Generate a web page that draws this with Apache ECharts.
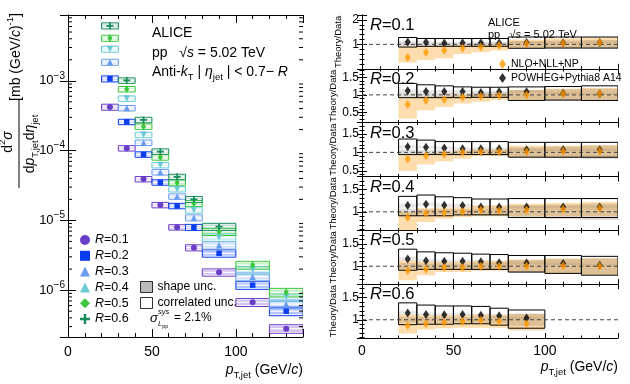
<!DOCTYPE html>
<html><head><meta charset="utf-8">
<script src="https://cdn.jsdelivr.net/npm/echarts@6/dist/echarts.min.js"></script>
<style>html,body{margin:0;padding:0;background:#fff}#c{width:630px;height:384px}</style>
</head><body><div id="c"></div>
<script>
const FONT = '"Liberation Sans", Arial, Helvetica, sans-serif';

// ---------- data ----------
const binLo = [20, 30, 40, 50, 60, 70, 80, 100, 120];
const binHi = [30, 40, 50, 60, 70, 80, 100, 120, 140];
const radii = ['R=0.1', 'R=0.2', 'R=0.3', 'R=0.4', 'R=0.5', 'R=0.6'];

const specR01 = [4.2e-4, 1.08e-4, 3.9e-5, 1.66e-5, 7.96e-6, 4.06e-6, 1.80e-6, 6.7e-7, 2.8e-7];
const specR02 = [1.07e-3, 2.58e-4, 8.8e-5, 3.5e-5, 1.61e-5, 7.96e-6, 3.37e-6, 1.18e-6, 5.0e-7];
const specR03 = [1.85e-3, 4.06e-4, 1.30e-4, 4.9e-5, 2.2e-5, 1.09e-5, 4.4e-6, 1.56e-6, 6.3e-7];
const specR04 = [2.85e-3, 5.57e-4, 1.68e-4, 6.2e-5, 2.8e-5, 1.41e-5, 5.7e-6, 1.94e-6, 8.0e-7];
const specR05 = [4.09e-3, 7.6e-4, 2.21e-4, 8.0e-5, 3.5e-5, 1.76e-5, 6.9e-6, 2.29e-6, 9.3e-7];
const specR06 = [6.15e-3, 1.01e-3, 2.75e-4, 9.7e-5, 4.2e-5, 2.0e-5, 8.1e-6];
const corrUnc = [0.10, 0.09, 0.09, 0.09, 0.09, 0.10, 0.12, 0.13, 0.14];
const shapeUnc = [0.05, 0.04, 0.04, 0.04, 0.05, 0.05, 0.08, 0.09, 0.10];

// ratio panels
const powheg01 = [1.10, 1.09, 1.06, 1.07, 1.07, 1.06, 1.08, 1.07, 1.08];
const nlo01    = [0.46, 0.67, 0.76, 0.85, 0.89, 0.95, 1.02, 1.05, 1.08];
const boxLo01  = [0.89, 0.92, 0.92, 0.92, 0.92, 0.92, 0.84, 0.85, 0.85];
const boxHi01  = [1.28, 1.24, 1.24, 1.24, 1.24, 1.24, 1.30, 1.30, 1.30];
const nloLo01  = [0.26, 0.36, 0.43, 0.61, 0.68, 0.75, 0.82, 0.85, 0.88];
const nloHi01  = [0.92, 0.92, 0.94, 0.96, 0.98, 1.00, 1.20, 1.25, 1.28];

const powheg02 = [1.12, 1.10, 1.10, 1.10, 1.07, 1.09, 1.09, 1.05, 1.03];
const nlo02    = [0.72, 0.84, 0.87, 0.93, 0.96, 0.98, 1.00, 1.03, 1.03];
const boxLo02  = [0.92, 0.92, 0.92, 0.92, 0.93, 0.93, 0.84, 0.85, 0.84];
const boxHi02  = [1.33, 1.29, 1.26, 1.23, 1.22, 1.22, 1.23, 1.24, 1.26];
const nloLo02  = [0.32, 0.56, 0.65, 0.75, 0.80, 0.85, 0.85, 0.86, 0.86];
const nloHi02  = [0.92, 0.95, 0.97, 1.00, 1.02, 1.04, 1.15, 1.18, 1.20];

const powheg03 = [1.15, 1.14, 1.12, 1.10, 1.10, 1.10, 1.07, 1.07, 1.07];
const nlo03    = [0.82, 0.91, 0.95, 1.00, 1.02, 1.02, 1.02, 1.03, 1.04];
const boxLo03  = [0.94, 0.94, 0.94, 0.94, 0.94, 0.94, 0.87, 0.87, 0.87];
const boxHi03  = [1.36, 1.33, 1.29, 1.29, 1.29, 1.29, 1.27, 1.27, 1.27];
const nloLo03  = [0.50, 0.67, 0.76, 0.83, 0.90, 0.90, 0.87, 0.87, 0.87];
const nloHi03  = [0.94, 0.97, 1.00, 1.05, 1.08, 1.08, 1.18, 1.18, 1.20];

const powheg04 = [1.14, 1.17, 1.15, 1.14, 1.11, 1.11, 1.11, 1.11, 1.11];
const nlo04    = [0.87, 0.96, 0.98, 1.00, 1.04, 1.03, 1.04, 1.06, 1.08];
const boxLo04  = [0.91, 0.91, 0.91, 0.93, 0.93, 0.93, 0.87, 0.87, 0.87];
const boxHi04  = [1.35, 1.38, 1.34, 1.32, 1.29, 1.29, 1.30, 1.30, 1.30];
const nloLo04  = [0.55, 0.77, 0.84, 0.88, 0.90, 0.90, 0.90, 0.90, 0.90];
const nloHi04  = [1.00, 1.08, 1.10, 1.10, 1.14, 1.14, 1.18, 1.20, 1.22];

const powheg05 = [1.16, 1.12, 1.11, 1.11, 1.10, 1.08, 1.07, 1.06, 1.02];
const nlo05    = [0.90, 0.93, 0.97, 0.97, 1.00, 1.00, 1.00, 1.01, 1.00];
const boxLo05  = [0.91, 0.93, 0.93, 0.93, 0.93, 0.93, 0.87, 0.84, 0.80];
const boxHi05  = [1.38, 1.32, 1.30, 1.29, 1.27, 1.26, 1.24, 1.24, 1.22];
const nloLo05  = [0.69, 0.80, 0.87, 0.87, 0.90, 0.90, 0.87, 0.84, 0.80];
const nloHi05  = [1.13, 1.10, 1.10, 1.10, 1.12, 1.12, 1.15, 1.17, 1.18];

const powheg06 = [1.15, 1.12, 1.11, 1.12, 1.10, 1.09, 1.04];
const nlo06    = [0.87, 0.91, 0.94, 0.96, 0.99, 0.96, 0.91];
const boxLo06  = [0.89, 0.90, 0.90, 0.91, 0.91, 0.88, 0.81];
const boxHi06  = [1.38, 1.33, 1.31, 1.31, 1.30, 1.26, 1.22];
const nloLo06  = [0.69, 0.78, 0.81, 0.82, 0.82, 0.82, 0.76];
const nloHi06  = [1.11, 1.10, 1.10, 1.10, 1.12, 1.10, 1.13];

const dataUnc = [0.07, 0.06, 0.06, 0.06, 0.07, 0.08, 0.14, 0.16, 0.18];
const powhegStat = [0.05, 0.04, 0.04, 0.04, 0.04, 0.04, 0.03, 0.03, 0.03];

const xTickLabels = [0, 50, 100];
const yLogTickLabels = [1e-6, 1e-5, 1e-4, 1e-3];
const panel1TickLabels = [1, 2];
const ratioMin = [0, 0.2, 0.35, 0.58, 0.6, 0.59];
const ratioMax = [2.2, 1.75, 1.8, 1.8, 1.8, 1.8];
const ratioStep = [1, 0.5, 0.5, 0.5, 0.5, 0.5];

// ---------- styling ----------
const specAll = [specR01, specR02, specR03, specR04, specR05, specR06];
const colors = ['#6a3dc8', '#0a3cf0', '#6a9cf2', '#6ccad4', '#3cc83c', '#158c5a'];
const crossPath = 'path://M3,0H5V3H8V5H5V8H3V5H0V3H3Z';
const symbols = ['circle', 'rect', 'triangle', 'triangle', 'diamond', crossPath];
const symRot = [0, 0, 0, 180, 0, 0];
const symSize = [6, 5.5, 6.5, 6.5, [5, 8], 7];
const panels = [
  [powheg01, nlo01, boxLo01, boxHi01, nloLo01, nloHi01],
  [powheg02, nlo02, boxLo02, boxHi02, nloLo02, nloHi02],
  [powheg03, nlo03, boxLo03, boxHi03, nloLo03, nloHi03],
  [powheg04, nlo04, boxLo04, boxHi04, nloLo04, nloHi04],
  [powheg05, nlo05, boxLo05, boxHi05, nloLo05, nloHi05],
  [powheg06, nlo06, boxLo06, boxHi06, nloLo06, nloHi06]
];

function richSized(sz, ssz) {
  return {
    n: {fontSize: sz, fontFamily: FONT, lineHeight: sz * 1.45, verticalAlign: 'middle', color: '#000'},
    i: {fontSize: sz, fontFamily: FONT, fontStyle: 'italic', lineHeight: sz * 1.45, verticalAlign: 'middle', color: '#000'},
    sub: {fontSize: ssz, fontFamily: FONT, lineHeight: ssz, verticalAlign: 'bottom', color: '#000'},
    sup: {fontSize: ssz, fontFamily: FONT, lineHeight: ssz, verticalAlign: 'top', color: '#000'}
  };
}

const grids = [{left: 68, top: 15, width: 235, height: 322}];
const PT = 15, PH = (338 - 15) / 6;
for (let k = 0; k < 6; k++) grids.push({left: 362, top: PT + k * PH, width: 256, height: PH});

const lineBlack = {show: true, lineStyle: {color: '#000', width: 1}};
function xAx(g, pos, labels, big) {
  return {
    gridIndex: g, type: 'value', min: 0, max: 140, interval: 50, position: pos,
    axisLine: lineBlack, splitLine: {show: false},
    axisTick: {show: true, inside: true, length: big ? 8 : 5, lineStyle: {color: '#000'}},
    minorTick: {show: true, splitNumber: 5, length: big ? 4 : 2.5, lineStyle: {color: '#000'}},
    axisLabel: {show: labels, fontSize: 14, fontFamily: FONT, color: '#000', margin: big ? 8 : 6,
      formatter: v => (xTickLabels.indexOf(v) >= 0 ? String(v) : '')}
  };
}
const xAxes = [xAx(0, 'bottom', true, true), xAx(0, 'top', false, true)];
const logMin = 2.13e-7, logMax = 8.77e-3;
const yAxes = [
  {gridIndex: 0, type: 'log', logBase: 10, min: logMin, max: logMax, position: 'left',
   axisLine: lineBlack, splitLine: {show: false},
   axisTick: {show: true, inside: true, length: 8, lineStyle: {color: '#000'}},
   minorTick: {show: false},
   axisLabel: {show: true, margin: 3, color: '#000',
     formatter: v => {
       const hit = yLogTickLabels.find(t => Math.abs(Math.log10(v) - Math.log10(t)) < 1e-6);
       if (!hit) return '';
       return '{b|10}{s|\u2212' + Math.round(-Math.log10(hit)) + '}';
     },
     rich: {b: {fontSize: 13, fontFamily: FONT, lineHeight: 20, verticalAlign: 'middle', color: '#000'},
            s: {fontSize: 10, fontFamily: FONT, lineHeight: 10, verticalAlign: 'top', color: '#000'}}}},
  {gridIndex: 0, type: 'log', logBase: 10, min: logMin, max: logMax, position: 'right',
   axisLine: lineBlack, splitLine: {show: false},
   axisTick: {show: true, inside: true, length: 8, lineStyle: {color: '#000'}},
   axisLabel: {show: false}}
];
for (let k = 0; k < 6; k++) {
  const g = k + 1, st = ratioStep[k], mn = ratioMin[k], mx = ratioMax[k];
  xAxes.push(xAx(g, 'bottom', k === 5, false));
  xAxes.push(xAx(g, 'top', false, false));
  const common = {
    gridIndex: g, type: 'value', min: mn, max: mx,
    axisLine: lineBlack, splitLine: {show: false},
    axisTick: {show: true, inside: true, length: 5, lineStyle: {color: '#000'}},
    minorTick: {show: true, splitNumber: 5, length: 2.5, lineStyle: {color: '#000'}}
  };
  if (Math.abs(mn / st - Math.round(mn / st)) < 1e-9) common.interval = st;
  else { common.minInterval = st; common.maxInterval = st; }
  yAxes.push(Object.assign({}, common, {position: 'left',
    name: 'Theory/Data', nameLocation: 'middle', nameGap: 19,
    nameTextStyle: {fontSize: 9.5, fontFamily: FONT, color: '#000'},
    axisLabel: {show: k !== 0, fontSize: 12, fontFamily: FONT, color: '#000', margin: 3,
      showMinLabel: false, showMaxLabel: false,
      formatter: v => {
        const r = v / st;
        if (Math.abs(r - Math.round(r)) > 1e-6) return '';
        if (v <= mn + 1e-6 || v >= mx - 1e-6) return '';
        return String(+v.toFixed(2));
      }}}));
  yAxes.push(Object.assign({}, common, {position: 'right', axisLabel: {show: false}}));
}

const series = [];
// log minor ticks (2..9 x 10^n) drawn through the log scale
const logMinor = [];
for (let e = -7; e <= -3; e++) for (let m = 2; m <= 9; m++) {
  const v = m * Math.pow(10, e);
  if (v > logMin && v < logMax) logMinor.push([0, v]);
}
series.push({
  type: 'custom', xAxisIndex: 0, yAxisIndex: 0, silent: true, z: 5,
  data: logMinor, encode: {x: 0, y: 1},
  renderItem: (params, api) => {
    const v = api.value(1);
    const a = api.coord([0, v]), b = api.coord([140, v]);
    return {type: 'group', children: [
      {type: 'line', shape: {x1: a[0], y1: a[1], x2: a[0] + 4, y2: a[1]}, style: {stroke: '#000', lineWidth: 1}},
      {type: 'line', shape: {x1: b[0] - 4, y1: b[1], x2: b[0], y2: b[1]}, style: {stroke: '#000', lineWidth: 1}}
    ]};
  }
});

// spectra
radii.forEach((name, k) => {
  const vals = specAll[k];
  const col = colors[k];
  series.push({
    type: 'custom', xAxisIndex: 0, yAxisIndex: 0, clip: true, silent: true, z: 2,
    data: vals.map((v, i) => [(binLo[i] + binHi[i]) / 2, v, binLo[i], binHi[i], corrUnc[i], shapeUnc[i]]),
    encode: {x: 0, y: 1},
    renderItem: (params, api) => {
      const v = api.value(1), lo = api.value(2), hi = api.value(3), cu = api.value(4), su = api.value(5);
      const a = api.coord([lo, v * (1 + cu)]), b = api.coord([hi, v * (1 - cu)]);
      const c = api.coord([lo, v * (1 + su)]), d = api.coord([hi, v * (1 - su)]);
      const m1 = api.coord([lo, v]), m2 = api.coord([hi, v]);
      return {type: 'group', children: [
        {type: 'rect', shape: {x: c[0], y: c[1], width: d[0] - c[0], height: d[1] - c[1]},
         style: {fill: echarts.color.modifyAlpha(col, 0.3)}},
        {type: 'rect', shape: {x: a[0], y: a[1], width: b[0] - a[0], height: b[1] - a[1]},
         style: {fill: 'none', stroke: col, lineWidth: 1}},
        {type: 'line', shape: {x1: m1[0] + 1, y1: m1[1], x2: m2[0] - 1, y2: m2[1]},
         style: {stroke: '#fff', lineWidth: 1.2}}
      ]};
    }
  });
  series.push({
    type: 'scatter', name, xAxisIndex: 0, yAxisIndex: 0, z: 4,
    symbol: symbols[k], symbolSize: symSize[k], symbolRotate: symRot[k],
    itemStyle: {color: col, opacity: 1},
    data: vals.map((v, i) => [(binLo[i] + binHi[i]) / 2, v])
  });
});
series.push({type: 'scatter', name: 'shape unc.', data: []});
series.push({type: 'scatter', name: 'correlated unc.', data: []});

// ratio panels
panels.forEach((p, k) => {
  const [pw, nl, bl, bh, nlo, nhi] = p;
  const xi = 2 + 2 * k, yi = 2 + 2 * k;
  series.push({
    type: 'custom', xAxisIndex: xi, yAxisIndex: yi, clip: true, silent: true, z: 2,
    data: pw.map((v, i) => [(binLo[i] + binHi[i]) / 2, binLo[i], binHi[i], bl[i], bh[i], nlo[i], nhi[i], dataUnc[i], v, powhegStat[i]]),
    encode: {x: 0, y: 4},
    renderItem: (params, api) => {
      const lo = api.value(1), hi = api.value(2);
      const r = (y1, y2, style) => {
        const a = api.coord([lo, y2]), b = api.coord([hi, y1]);
        return {type: 'rect', shape: {x: a[0], y: a[1], width: b[0] - a[0], height: b[1] - a[1]}, style};
      };
      const dh = api.value(7), pv = api.value(8), ps = api.value(9);
      return {type: 'group', children: [
        r(pv - ps, pv + ps, {fill: 'rgba(120,120,120,0.16)'}),
        r(api.value(5), api.value(6), {fill: 'rgba(250,165,40,0.38)'}),
        r(1 - dh, 1 + dh, {fill: 'rgba(110,90,70,0.22)'}),
        r(api.value(3), api.value(4), {fill: 'none', stroke: '#000', lineWidth: 1})
      ]};
    }
  });
  series.push({
    type: 'line', xAxisIndex: xi, yAxisIndex: yi, silent: true, symbol: 'none', z: 3,
    data: [[0, 1], [140, 1]],
    lineStyle: {color: '#444', width: 1, type: [4, 3]}
  });
  series.push({
    type: 'scatter', name: 'POWHEG+Pythia8 A14', xAxisIndex: xi, yAxisIndex: yi, z: 4,
    symbol: 'diamond', symbolSize: [6, 9], itemStyle: {color: '#000'},
    data: pw.map((v, i) => [(binLo[i] + binHi[i]) / 2, v])
  });
  series.push({
    type: 'scatter', name: 'NLO+NLL+NP', xAxisIndex: xi, yAxisIndex: yi, z: 5,
    symbol: 'diamond', symbolSize: [6, 9], itemStyle: {color: '#ff9900'},
    data: nl.map((v, i) => [(binLo[i] + binHi[i]) / 2, v])
  });
});

const graphic = [];
const T = (x, y, text, sz, ssz, align, va) => ({type: 'text', x, y, silent: true,
  style: {text, rich: richSized(sz, ssz || sz * 0.7), align: align || 'left', verticalAlign: va || 'middle', fill: '#000', font: sz + 'px ' + FONT}});
// left texts
graphic.push(T(152, 33, '{n|ALICE}', 14));
graphic.push(T(152, 53, '{n|pp   \u221A}{i|s}{n| = 5.02 TeV}', 14));
graphic.push(T(152, 72, '{n|Anti-}{i|k}{sub|T}{n| | }{i|\u03B7}{sub|jet}{n| | < 0.7\u2212 }{i|R}', 14, 9.5));
graphic.push(T(150, 318, '{i|\u03C3}', 13));
graphic.push(T(158, 312, '{i|sys}', 7.5));
graphic.push(T(158, 324, '{i|L}{sub|pp}', 7.5, 5.5));
graphic.push(T(174, 318, '{n|= 2.1%}', 12));
graphic.push(T(303, 370, '{i|p}{sub|T,jet}{n| (GeV/}{i|c}{n|)}', 14, 9.5, 'right'));
graphic.push(T(618, 367, '{i|p}{sub|T,jet}{n| (GeV/}{i|c}{n|)}', 14, 9.5, 'right'));
// right texts
graphic.push(T(488, 23, '{n|ALICE}', 11));
graphic.push(T(488, 34.5, '{n|pp   \u221A}{i|s}{n| = 5.02 TeV}', 11));
for (let k = 0; k < 6; k++) {
  graphic.push(T(370, PT + k * PH + 10.5, '{i|R}{n|=' + radii[k].slice(2) + '}', 16.5));
}
// left y title (rotated)
graphic.push({type: 'group', x: 19, y: 188, rotation: Math.PI / 2, silent: true, children: [
  {type: 'line', shape: {x1: 0, y1: 0, x2: 88, y2: 0}, style: {stroke: '#000', lineWidth: 1}},
  {type: 'text', x: 46, y: -1, style: {text: '{n|d}{sup|2}{i|\u03C3}', rich: richSized(14, 9.5), align: 'center', verticalAlign: 'bottom', fill: '#000'}},
  {type: 'text', x: 44, y: 1, style: {text: '{n|d}{i|p}{sub|T,jet}{n|d}{i|\u03B7}{sub|jet}', rich: richSized(14, 9.5), align: 'center', verticalAlign: 'top', fill: '#000'}},
  {type: 'text', x: 131, y: -3, style: {text: '{n|[mb (GeV/}{i|c}{n|)}{sup|-1}{n|]}', rich: richSized(14, 9.5), align: 'center', verticalAlign: 'middle', fill: '#000'}}
]});

const option = {
  animation: false,
  backgroundColor: '#fff',
  textStyle: {fontFamily: FONT},
  grid: grids,
  xAxis: xAxes,
  yAxis: yAxes,
  legend: [
    {data: radii, left: 75, top: 228, orient: 'vertical', itemGap: 1.8, itemWidth: 10, itemHeight: 10,
     selectedMode: false, formatter: n => '{i|R}{n|' + n.slice(1) + '}',
     textStyle: {fontSize: 12.5, fontFamily: FONT, color: '#000', lineHeight: 14,
       rich: {i: {fontSize: 12.5, fontStyle: 'italic', fontFamily: FONT, color: '#000'}, n: {fontSize: 12.5, fontFamily: FONT, color: '#000'}}}},
    {data: [{name: 'shape unc.', icon: 'rect', itemStyle: {color: '#aaa', borderColor: '#000', borderWidth: 1}},
            {name: 'correlated unc.', icon: 'rect', itemStyle: {color: '#fff', borderColor: '#000', borderWidth: 1}}],
     left: 135, top: 276, orient: 'vertical', itemGap: 4, itemWidth: 12, itemHeight: 11, selectedMode: false,
     textStyle: {fontSize: 12, fontFamily: FONT, color: '#000', lineHeight: 12}},
    {data: [{name: 'NLO+NLL+NP', icon: 'diamond', itemStyle: {color: '#ff9900'}},
            {name: 'POWHEG+Pythia8 A14', icon: 'diamond', itemStyle: {color: '#000'}}],
     left: 494, top: 53, orient: 'vertical', itemGap: 2, itemWidth: 7, itemHeight: 10, selectedMode: false,
     textStyle: {fontSize: 10.5, fontFamily: FONT, color: '#000', lineHeight: 12}}
  ],
  graphic,
  series
};
const chart = echarts.init(document.getElementById('c'), null, {renderer: 'canvas'});
chart.setOption(option);

// tick labels of the top ratio panel, positioned through that panel's axes
const tickX = chart.convertToPixel({xAxisIndex: 2}, 0);
const extra = panel1TickLabels.map(v => ({
  type: 'text', silent: true, z: 100, zlevel: 1, x: tickX - 3, y: chart.convertToPixel({yAxisIndex: 2}, v),
  style: {text: String(v), fill: '#000', fontSize: 12, fontFamily: FONT, align: 'right', verticalAlign: 'middle'}
}));
chart.setOption({graphic: graphic.concat(extra)});
</script>
</body></html>
